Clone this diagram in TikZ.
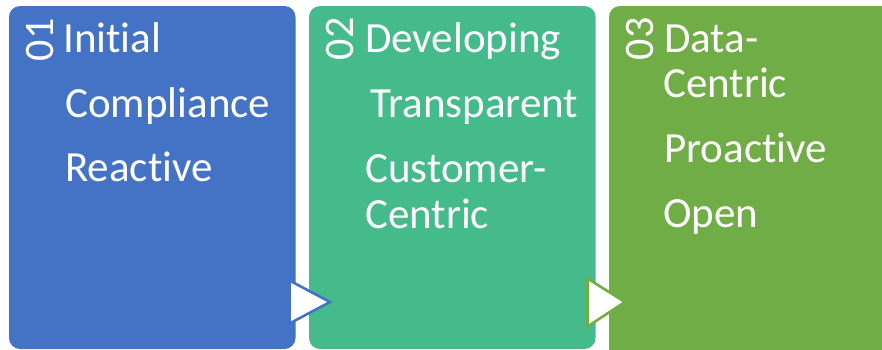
\documentclass[tikz,border=0pt]{standalone}
\usepackage{fontspec}
\setmainfont{Carlito}[Ligatures={NoCommon}]
\definecolor{cblue}{HTML}{4472C4}
\definecolor{cteal}{HTML}{45BB8C}
\definecolor{cgreen}{HTML}{70AD47}
\begin{document}
\begin{tikzpicture}[x=1pt,y=-1pt,
  txt/.style={anchor=base west, inner sep=0, text=white, font=\fontsize{43}{46}\selectfont},
  num/.style={rotate=90, anchor=base, inner sep=0, text=white, font=\fontsize{42}{44}\selectfont},
  panel/.style={rounded corners=11pt},
  arrowtri/.style={line width=2.6pt, fill=white, line join=miter}]
\clip (0,0) rectangle (882,349);
\fill[cblue, panel] (9,6) rectangle (295.5,349);
\fill[cteal, panel] (309,6) rectangle (595.5,349);
\fill[cgreen, panel] (609,6) rectangle (900,370);
% numbers
\node[num] (n1) at (53.5,40) {01};
\node[num] (n2) at (353.5,39) {02};
\node[num] (n3) at (653.5,39) {03};
% texts
\node[txt] (t1a) at (63,52) {Initial};
\node[txt] (t1b) at (65,117) {Compliance};
\node[txt] (t1c) at (65,181) {Reactive};
\node[txt] (t2a) at (365,52) {Developing};
\node[txt] (t2b) at (370,117) {Transparent};
\node[txt] (t2c) at (365,182) {Customer-};
\node[txt] (t2d) at (365,228) {Centric};
\node[txt] (t3a) at (664,52) {Data-};
\node[txt] (t3b) at (663,97) {Centric};
\node[txt] (t3c) at (664,162) {Proactive};
\node[txt] (t3d) at (663,227) {Open};
% arrows
\draw[cblue, arrowtri] (289.5,280.5) -- (330,302) -- (289.5,323.5) -- cycle;
\draw[cgreen, arrowtri] (587.5,278.5) -- (625,302) -- (587.5,326.5) -- cycle;
\end{tikzpicture}
\end{document}
